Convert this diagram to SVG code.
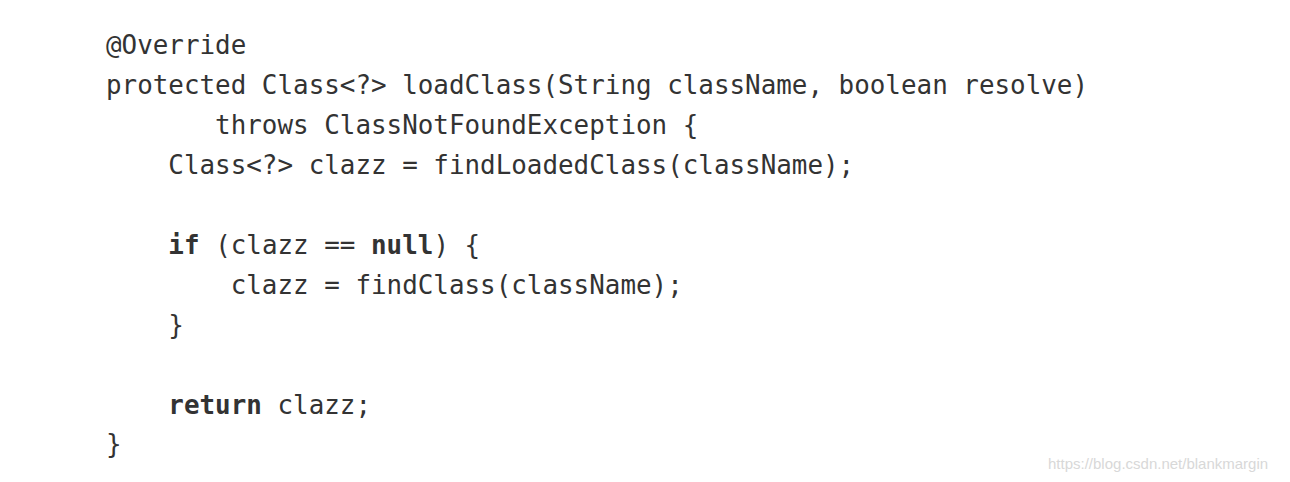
<svg xmlns="http://www.w3.org/2000/svg" width="1290" height="482" viewBox="0 0 1290 482">
<style>
.c{font-family:"DejaVu Sans Mono",monospace;font-size:25.9px;fill:#333;white-space:pre}
.b{font-weight:bold}
.w{font-family:"Liberation Sans",Arial,sans-serif;font-size:15px;fill:#d8d8d8}
</style>
<rect width="1290" height="482" fill="#fff"/>
<g id="code" xml:space="preserve">
<text class="c" x="106" y="54">@Override</text>
<text class="c" x="106" y="94">protected Class&lt;?&gt; loadClass(String className, boolean resolve)</text>
<text class="c" x="106" y="134">       throws ClassNotFoundException {</text>
<text class="c" x="106" y="174">    Class&lt;?&gt; clazz = findLoadedClass(className);</text>
<text class="c" x="106" y="254">    <tspan class="b">if</tspan> (clazz == <tspan class="b">null</tspan>) {</text>
<text class="c" x="106" y="294">        clazz = findClass(className);</text>
<text class="c" x="106" y="334">    }</text>
<text class="c" x="106" y="414">    <tspan class="b">return</tspan> clazz;</text>
<text class="c" x="106" y="453">}</text>
</g>
<text class="w" x="1048" y="469">https://blog.csdn.net/blankmargin</text>
</svg>
